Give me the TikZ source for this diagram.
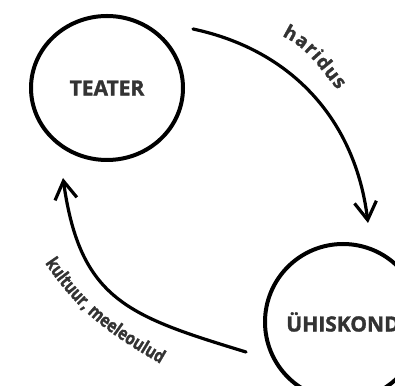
\documentclass[tikz,border=0pt]{standalone}
\usepackage{fontspec}
\newfontfamily\kiri{Open Sans}[BoldFeatures={FakeBold=1.5}]
\newfontfamily\silt{Open Sans}[BoldFeatures={FakeStretch=0.82,FakeBold=1.5}]
\usetikzlibrary{arrows.meta}
\usetikzlibrary{shapes.geometric}
\usetikzlibrary{decorations.text}
\definecolor{tumehall}{HTML}{333333}
\tikzset{
  ring/.style={draw, line width=4pt, inner sep=0pt, font=\kiri\bfseries\fontsize{21}{24}\selectfont, text=tumehall},
  nool/.style={line width=3.2pt},
}

\begin{document}
\begin{tikzpicture}[line cap=round,line join=round,>={Straight Barb[length=18pt,width=22pt]},x=1pt,y=1pt]
\useasboundingbox (0,0) rectangle (395,385);
\clip (0,0) rectangle (395,385);
\node[ring, ellipse, minimum width=152pt, minimum height=144pt] (teater) at (107,297) {TEATER};
\node[ring, circle, minimum size=156pt] (uhiskond) at (343,63) {ÜHISKOND};
%
\coordinate (haridusalgus) at (193,356);
\coordinate (haridusots) at (368,162);
\draw[->, nool] (haridusalgus) to[out=-12,in=97] (haridusots);
\coordinate (kultuuralgus) at (246,33);
\coordinate (kultuurots) at (63,207);
\draw[->, nool] (kultuuralgus) to[out=163,in=-82,looseness=1.25] (kultuurots);
%
\coordinate (h1) at (282,349);
\coordinate (h2) at (338,295);
\path[decorate, decoration={text along path, text align={fit to path},
  text={|\kiri\bfseries\fontsize{19}{21}\selectfont\color{tumehall}|haridus}}] (h1) to[out=-25,in=132] (h2);
\coordinate (k1) at (45,122);
\coordinate (k2) at (171,15);
\path[decorate, decoration={text along path,
  text={|\silt\bfseries\fontsize{18.4}{21}\selectfont\color{tumehall}|kultuur, meeleoulud}}] (k1) to[out=-56,in=150] (k2) -- ++(-30:60);
\end{tikzpicture}
\end{document}
